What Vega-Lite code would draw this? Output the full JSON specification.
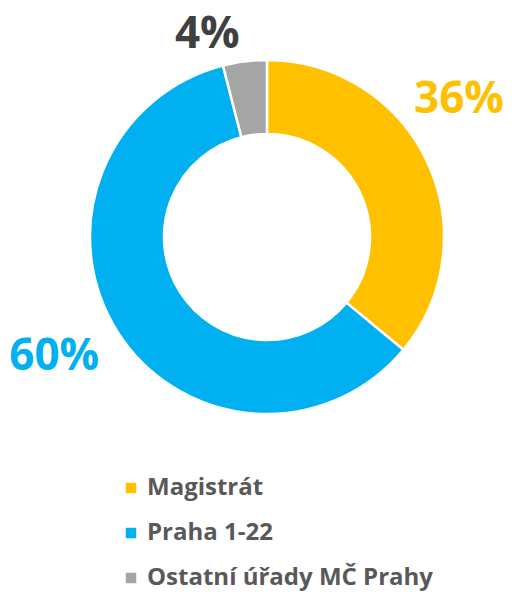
{
  "$schema": "https://vega.github.io/schema/vega-lite/v6.json",
  "width": 494,
  "height": 474,
  "autosize": {"type": "none"},
  "padding": {"left": 20, "top": 0, "right": 0, "bottom": 118},
  "background": "white",
  "config": {"view": {"stroke": null}, "font": "Open Sans"},
  "data": {
    "values": [
      {"kategorie": "Magistrát", "podil": 36, "ord": 1, "label": "36%"},
      {"kategorie": "Praha 1-22", "podil": 60, "ord": 2, "label": "60%"},
      {"kategorie": "Ostatní úřady MČ Prahy", "podil": 4, "ord": 3, "label": "4%"}
    ]
  },
  "encoding": {
    "theta": {"field": "podil", "type": "quantitative", "stack": true},
    "order": {"field": "ord", "type": "quantitative"}
  },
  "layer": [
    {
      "mark": {"type": "arc", "outerRadius": 177, "innerRadius": 103, "stroke": "white", "strokeWidth": 2.5},
      "encoding": {
        "color": {
          "field": "kategorie",
          "type": "nominal",
          "scale": {
            "domain": ["Magistrát", "Praha 1-22", "Ostatní úřady MČ Prahy"],
            "range": ["#FFC000", "#00B0F0", "#A5A5A5"]
          },
          "legend": {
            "title": null,
            "orient": "none",
            "legendX": 99,
            "legendY": 476,
            "padding": 0,
            "symbolType": "square",
            "symbolSize": 110,
            "symbolStrokeWidth": 0,
            "labelFont": "Open Sans",
            "labelFontSize": 24,
            "labelFontWeight": "bold",
            "labelColor": "#595959",
            "labelOffset": 4,
            "rowPadding": 21,
            "labelLimit": 400
          }
        }
      }
    },
    {
      "mark": {"type": "text", "radius": 210, "dx": 2, "dy": -48, "font": "Open Sans", "fontSize": 44, "fontWeight": "bold", "color": "#FFC000", "align": "center", "baseline": "middle"},
      "encoding": {
        "text": {"condition": {"test": "datum.ord == 1", "field": "label"}, "value": ""}
      }
    },
    {
      "mark": {"type": "text", "radius": 220, "dx": -27, "dy": 2, "font": "Open Sans", "fontSize": 44, "fontWeight": "bold", "color": "#00B0F0", "align": "center", "baseline": "middle"},
      "encoding": {
        "text": {"condition": {"test": "datum.ord == 2", "field": "label"}, "value": ""}
      }
    },
    {
      "mark": {"type": "text", "radius": 205, "dx": -34, "dy": 1, "font": "Open Sans", "fontSize": 44, "fontWeight": "bold", "color": "#404040", "align": "center", "baseline": "middle"},
      "encoding": {
        "text": {"condition": {"test": "datum.ord == 3", "field": "label"}, "value": ""}
      }
    }
  ]
}
